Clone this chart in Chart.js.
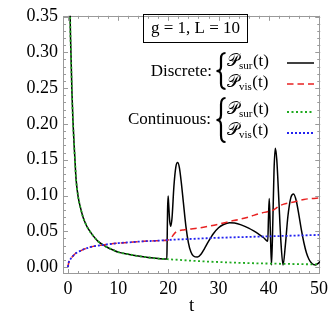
<!DOCTYPE html>
<html><head><meta charset="utf-8">
<script src="https://cdn.jsdelivr.net/npm/chart.js@4/dist/chart.umd.min.js"></script>
<style>html,body{margin:0;padding:0;background:#fff}canvas{display:block}</style>
</head><body>
<canvas id="c" width="332" height="323"></canvas>
<script>
// ---- data ----
const xTickValues = [0, 10, 20, 30, 40, 50];
const yTickValues = [0, 0.05, 0.10, 0.15, 0.20, 0.25, 0.30, 0.35];

// continuous survival probability (green)
const tContSur = [0.3,0.45,0.6,0.8,1,1.2,1.4,1.6,2,2.5,3,3.5,4,5,6,7,8,9,10,12,14,16,18,20,22,25,28,30,33,36,40,43,46,50];
const contSur  = [0.50,0.35,0.30,0.245,0.205,0.175,0.15,0.125,0.100,0.083,0.070,0.061,0.054,0.044,0.036,0.031,0.027,0.024,0.021,0.018,0.0155,0.0135,0.012,0.011,0.0102,0.0088,0.0077,0.0071,0.0063,0.0056,0.005,0.0046,0.0042,0.0038];

// continuous visiting probability (blue)
const tContVis = [0,0.15,0.4,0.7,1,1.5,2,3,4,5,6,7,8,10,12,15,18,20,25,30,35,40,45,50];
const contVis  = [0,0.006,0.010,0.013,0.0155,0.019,0.021,0.0245,0.027,0.029,0.030,0.031,0.032,0.0335,0.0345,0.036,0.037,0.038,0.0395,0.041,0.042,0.043,0.044,0.045];

// discrete survival probability (black): same as continuous before t≈19.7, then these points
const tDiscSurBefore = [0.3,0.45,0.6,0.8,1,1.2,1.4,1.6,2,2.5,3,3.5,4,5,6,7,8,9,10,12,14,16,18,19.7];
const discSurBefore  = [0.50,0.35,0.30,0.245,0.205,0.175,0.15,0.125,0.100,0.083,0.070,0.061,0.054,0.044,0.036,0.031,0.027,0.024,0.021,0.018,0.0155,0.0135,0.012,0.0112];
const tDiscSurAfter = [19.75,19.85,19.95,20.05,20.25,20.5,20.75,21.1,21.5,21.85,22.2,22.6,23,23.5,24,24.5,25,25.8,26.5,27.2,28,29,30,31,32.2,33.2,34.5,36,37,38,39,39.8,39.95,40.1,40.3,40.55,40.8,41.05,41.3,41.6,42,42.4,42.85,43.3,43.8,44.4,44.95,45.5,46,46.5,47,47.5,48,48.6,49.3,49.8,50.2];
const discSurAfter  = [0.03,0.08,0.0995,0.09,0.066,0.057,0.07,0.112,0.14,0.146,0.139,0.117,0.09,0.057,0.034,0.021,0.0155,0.014,0.018,0.026,0.036,0.047,0.055,0.0595,0.062,0.0615,0.059,0.0545,0.0505,0.046,0.041,0.036,0.07,0.096,0.055,0.003,0.06,0.135,0.166,0.15,0.095,0.038,0.003,0.03,0.07,0.097,0.102,0.092,0.073,0.052,0.034,0.02,0.011,0.005,0.003,0.005,0.008];

// discrete visiting probability (red): same as continuous before t=20, then these points
const tDiscVisBefore = [0,0.15,0.4,0.7,1,1.5,2,3,4,5,6,7,8,10,12,15,18,20];
const discVisBefore  = [0,0.006,0.010,0.013,0.0155,0.019,0.021,0.0245,0.027,0.029,0.030,0.031,0.032,0.0335,0.0345,0.036,0.037,0.038];
const tDiscVisAfter = [20.3,20.7,21.1,21.5,22,23,24,26,28,30,32,34,36,38,40,40.5,41,41.5,42,43,44,45,46,47,48,49,50];
const discVisAfter  = [0.039,0.042,0.046,0.049,0.0505,0.052,0.053,0.0545,0.057,0.060,0.0635,0.0665,0.070,0.0745,0.078,0.079,0.080,0.0825,0.085,0.088,0.0895,0.091,0.093,0.0945,0.0955,0.096,0.0965];

const pts = (xs, ys) => xs.map((x, i) => ({x, y: ys[i]}));

const RED = '#e82222', GREEN = '#1faa1f', BLUE = '#2222f0';
const FRAME = '#9a9a9a';
const SERIF = '"Liberation Serif","DejaVu Serif",serif';

const framePlugin = {
  id: 'frameTicks',
  beforeDatasetsDraw(chart) {
    const {ctx, chartArea: a, scales: {x, y}} = chart;
    ctx.save();
    ctx.strokeStyle = FRAME;
    ctx.lineWidth = 1;
    ctx.strokeRect(Math.round(a.left) + 0.5, Math.round(a.top) + 0.5, Math.round(a.right - a.left) - 1, Math.round(a.bottom - a.top) - 1);
    ctx.beginPath();
    for (let v = 0; v <= 50.001; v += 2) {
      const px = Math.round(x.getPixelForValue(v)) + 0.5;
      const len = (Math.round(v) % 10 === 0) ? 5 : 3;
      ctx.moveTo(px, a.bottom); ctx.lineTo(px, a.bottom - len);
      ctx.moveTo(px, a.top); ctx.lineTo(px, a.top + len);
    }
    for (let k = 0; k <= 35; k++) {
      const v = k / 100;
      const py = Math.round(y.getPixelForValue(v)) + 0.5;
      const len = (k % 5 === 0) ? 5 : 3;
      ctx.moveTo(a.left, py); ctx.lineTo(a.left + len, py);
      ctx.moveTo(a.right, py); ctx.lineTo(a.right - len, py);
    }
    ctx.stroke();
    ctx.restore();
  },
  afterDatasetsDraw(chart) {
    const ctx = chart.ctx;
    ctx.save();
    // parameter box
    ctx.strokeStyle = '#000'; ctx.lineWidth = 1;
    ctx.strokeRect(143.5, 14.5, 104, 28);
    ctx.fillStyle = '#000';
    ctx.font = '17px ' + SERIF;
    ctx.textBaseline = 'middle';
    ctx.textAlign = 'center';
    ctx.fillText('g = 1, L = 10', 195.5, 29);
    // group labels
    ctx.textAlign = 'right';
    ctx.fillText('Discrete:', 212, 72);
    ctx.fillText('Continuous:', 211, 120);
    // braces
    const brace = (y0, y1) => {
      const xl = 216.5, xr = 225.5, xc = 221, h = y1 - y0, ym = (y0 + y1) / 2;
      ctx.beginPath();
      ctx.moveTo(xr, y0);
      ctx.quadraticCurveTo(xc, y0, xc, y0 + h * 0.15);
      ctx.lineTo(xc, ym - h * 0.12);
      ctx.quadraticCurveTo(xc, ym, xl, ym);
      ctx.quadraticCurveTo(xc, ym, xc, ym + h * 0.12);
      ctx.lineTo(xc, y1 - h * 0.15);
      ctx.quadraticCurveTo(xc, y1, xr, y1);
      ctx.lineWidth = 2.2;
      ctx.stroke();
    };
    brace(53, 89);
    brace(98, 142);
    // entries
    const entry = (sub, yy) => {
      ctx.textAlign = 'left';
      ctx.font = '17px ' + SERIF;
      ctx.fillText('\u{1D4AB}', 227, yy);
      let w = ctx.measureText('\u{1D4AB}').width;
      ctx.font = '11px ' + SERIF;
      ctx.fillText(sub, 227 + w, yy + 4);
      const w2 = ctx.measureText(sub).width;
      ctx.font = '17px ' + SERIF;
      ctx.fillText('(t)', 227 + w + w2 + 0.5, yy);
    };
    entry('sur', 62);
    entry('vis', 83);
    entry('sur', 110);
    entry('vis', 131);
    // line samples
    const sample = (yy, color, dash, lw) => {
      ctx.beginPath();
      ctx.setLineDash(dash);
      ctx.strokeStyle = color; ctx.lineWidth = lw;
      ctx.moveTo(287, yy); ctx.lineTo(314, yy);
      ctx.stroke();
      ctx.setLineDash([]);
    };
    sample(63, '#000', [], 1.5);
    sample(84, RED, [6.5, 4], 1.5);
    sample(112, GREEN, [2, 2.5], 1.8);
    sample(133, BLUE, [2, 2], 1.8);
    ctx.restore();
  }
};

new Chart(document.getElementById('c'), {
  type: 'line',
  data: {
    datasets: [
      {data: pts(tContVis, contVis), borderColor: BLUE, borderWidth: 1.8, borderDash: [2, 2], order: 1},
      {data: pts(tContSur, contSur), borderColor: GREEN, borderWidth: 1.8, borderDash: [2, 2.5], order: 2},
      {data: pts(tDiscVisBefore.concat(tDiscVisAfter), discVisBefore.concat(discVisAfter)), borderColor: RED, borderWidth: 1.5, borderDash: [6.5, 4], order: 3},
      {data: pts(tDiscSurBefore.concat(tDiscSurAfter), discSurBefore.concat(discSurAfter)), borderColor: '#000', borderWidth: 1.5, order: 4}
    ]
  },
  options: {
    responsive: false,
    animation: false,
    events: [],
    layout: {padding: {top: 10, right: 8, left: 0, bottom: 0}},
    elements: {point: {radius: 0}, line: {cubicInterpolationMode: 'monotone', fill: false}},
    plugins: {legend: {display: false}, tooltip: {enabled: false}},
    scales: {
      x: {
        type: 'linear', min: -0.98, max: 50.26,
        afterBuildTicks: s => { s.ticks = xTickValues.map(v => ({value: v})); },
        afterFit: s => { s.height = 49; },
        grid: {display: false, drawTicks: false},
        border: {display: false},
        ticks: {color: '#000', font: {family: SERIF, size: 18}, padding: 4, maxRotation: 0, autoSkip: false, callback: v => String(v)},
        title: {display: true, text: 't', color: '#000', font: {family: SERIF, size: 19}, padding: {top: 0, bottom: 6}}
      },
      y: {
        type: 'linear', min: -0.0096, max: 0.351,
        afterBuildTicks: s => { s.ticks = yTickValues.map(v => ({value: v})); },
        afterFit: s => { s.width = 63; },
        grid: {display: false, drawTicks: false},
        border: {display: false},
        ticks: {color: '#000', font: {family: SERIF, size: 18}, padding: 5, autoSkip: false, callback: v => v.toFixed(2)}
      }
    }
  },
  plugins: [framePlugin]
});
</script>
</body></html>
